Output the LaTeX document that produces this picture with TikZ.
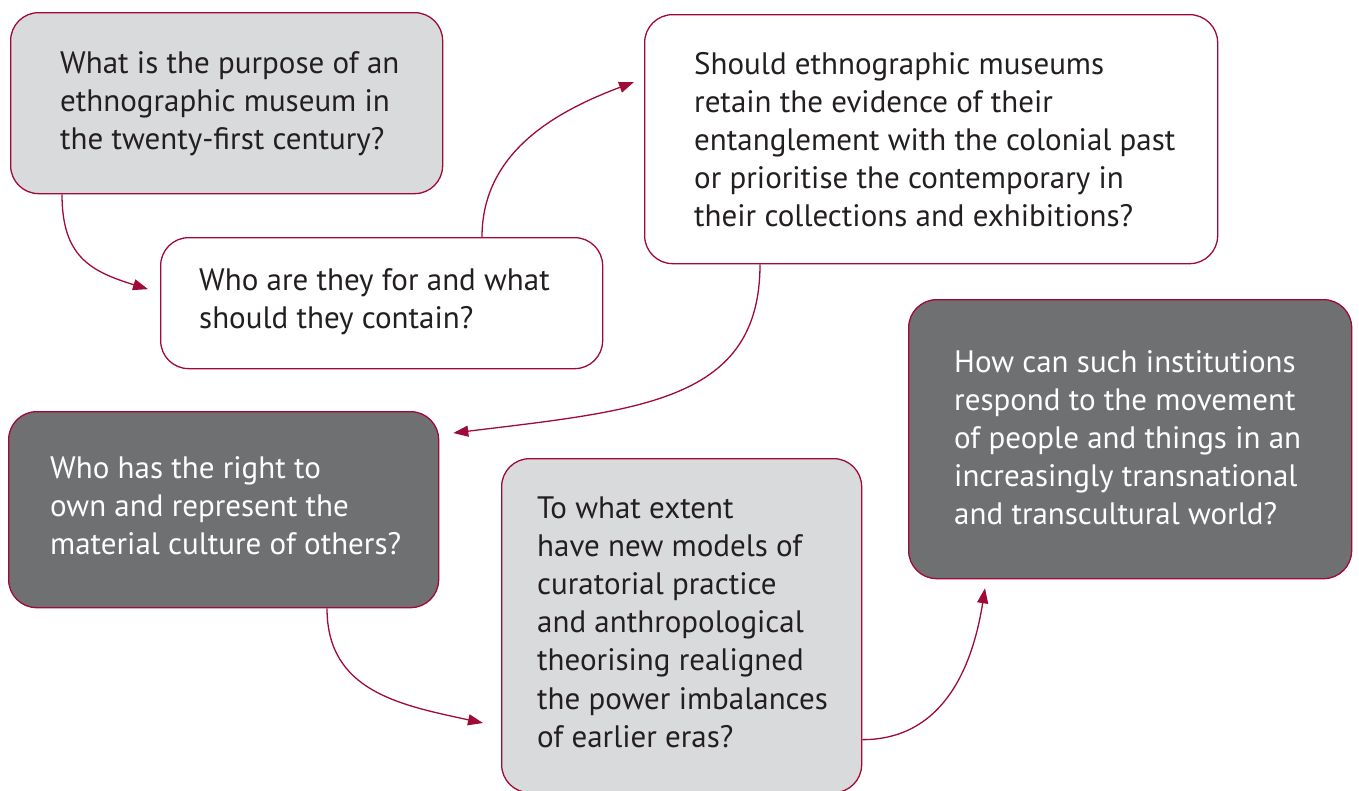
\documentclass[tikz,border=0pt]{standalone}
\usepackage{fontspec}
\setmainfont{PT Sans}
\usetikzlibrary{arrows.meta}
\definecolor{crim}{RGB}{160,10,55}
\definecolor{lgray}{RGB}{217,218,220}
\definecolor{dgray}{RGB}{111,112,114}
\definecolor{ink}{RGB}{35,31,32}
\newcommand{\qtext}[1]{\parbox[t]{700pt}{\raggedright\fontsize{31}{38.2}\selectfont #1}}
\begin{document}
\begin{tikzpicture}[x=1pt,y=-1pt,
  qbox/.style={draw=crim, line width=1.3pt, rounded corners=28pt, inner sep=0pt, anchor=north west},
  lightbox/.style={qbox, fill=lgray},
  plainbox/.style={qbox, fill=white},
  darkbox/.style={qbox, fill=dgray},
  qt/.style={anchor=base west, inner sep=0pt, text=ink},
  qtw/.style={anchor=base west, inner sep=0pt, text=white},
  conn/.style={draw=crim, line width=1.3pt, -{Triangle[length=15pt,width=11pt]}}]
\useasboundingbox (0,0) rectangle (1359,790);

\node[lightbox, minimum width=432pt, minimum height=181pt] (b1) at (10,12) {};
\node[plainbox, minimum width=442pt, minimum height=131pt] (b2) at (160,237) {};
\node[plainbox, minimum width=573pt, minimum height=249pt] (b3) at (644,14) {};
\node[darkbox, minimum width=430pt, minimum height=196pt] (b4) at (8,411) {};
\node[lightbox, minimum width=360pt, minimum height=334pt] (b5) at (501,458) {};
\node[darkbox, minimum width=443pt, minimum height=279pt] (b6) at (908,299) {};

\node[qt] (t1) at (60,73) {\qtext{What is the purpose of an\\ethnographic museum in\\the twenty-first century?}};
\node[qt] (t2) at (199,290) {\qtext{Who are they for and what\\should they contain?}};
\node[qt] (t3) at (694,74) {\qtext{Should ethnographic museums\\retain the evidence of their\\entanglement with the colonial past\\or prioritise the contemporary in\\their collections and exhibitions?}};
\node[qtw] (t4) at (50,478) {\qtext{Who has the right to\\own and represent the\\material culture of others?}};
\node[qt] (t5) at (537,518) {\qtext{To what extent\\have new models of\\curatorial practice\\and anthropological\\theorising realigned\\the power imbalances\\of earlier eras?}};
\node[qtw] (t6) at (954,372) {\qtext{How can such institutions\\respond to the movement\\of people and things in an\\increasingly transnational\\and transcultural world?}};

\draw[conn] ([xshift=52pt]b1.south west) .. controls +(0,62) and +(-58,-18) .. ([xshift=-12pt,yshift=14pt]b2.west);
\draw[conn] ([xshift=322pt]b2.north west) .. controls +(0,-87) and +(-74,28) .. ([xshift=-10pt,yshift=-68pt]b3.north west);
\draw[conn] ([xshift=116pt]b3.south west) .. controls +(0,137) and +(188,-23) .. ([xshift=14pt,yshift=-22pt]b4.north east);
\draw[conn] ([xshift=319pt]b4.south west) .. controls +(0,83) and +(-83,-18) .. ([xshift=-18pt,yshift=-265pt]b5.north west);
\draw[conn] ([yshift=-114pt]b5.east) .. controls +(89,0) and +(-10,63) .. ([xshift=77pt,yshift=-9pt]b6.south west);
\end{tikzpicture}
\end{document}
